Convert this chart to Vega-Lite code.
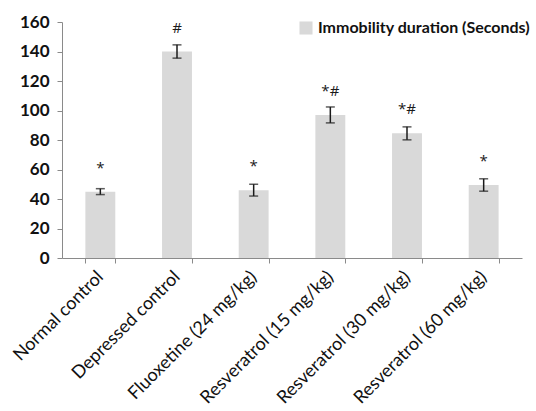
{
  "$schema": "https://vega.github.io/schema/vega-lite/v6.json",
  "autosize": "none",
  "width": 460,
  "height": 236,
  "padding": {"left": 62, "top": 22, "right": 14, "bottom": 153},
  "background": "white",
  "config": {
    "view": {"stroke": null},
    "font": "Lato"
  },
  "data": {
    "values": [
      {"group": "Normal control", "mean": 45, "sem": 2, "sig": "*"},
      {"group": "Depressed control", "mean": 140, "sem": 4.5, "sig": "#"},
      {"group": "Fluoxetine (24 mg/kg)", "mean": 46, "sem": 4, "sig": "*"},
      {"group": "Resveratrol (15 mg/kg)", "mean": 97, "sem": 5.4, "sig": "*#"},
      {"group": "Resveratrol (30 mg/kg)", "mean": 84.5, "sem": 4.4, "sig": "*#"},
      {"group": "Resveratrol (60 mg/kg)", "mean": 49.5, "sem": 4.2, "sig": "*"}
    ]
  },
  "encoding": {
    "x": {
      "field": "group",
      "type": "nominal",
      "sort": null,
      "scale": {"paddingInner": 0.61, "paddingOuter": 0.305},
      "axis": {
        "title": null,
        "labelAngle": -45,
        "labelAlign": "right",
        "labelBaseline": "middle",
        "labelFontSize": 18,
        "labelColor": "#111",
        "labelPadding": 11,
        "labelLimit": 300,
        "labelOverlap": false,
        "tickBand": "extent",
        "tickSize": 5,
        "tickColor": "#8a8a8a",
        "domainColor": "#8a8a8a",
        "labelFont": "Lato"
      }
    },
    "y": {
      "field": "mean",
      "type": "quantitative",
      "scale": {"domain": [0, 160], "nice": false},
      "axis": {
        "title": null,
        "values": [0, 20, 40, 60, 80, 100, 120, 140, 160],
        "labelOverlap": false,
        "grid": false,
        "labelFont": "Lato",
        "labelFontSize": 17,
        "labelFontWeight": "bold",
        "labelColor": "#111",
        "labelPadding": 8,
        "tickSize": 5,
        "tickColor": "#8a8a8a",
        "domainColor": "#8a8a8a"
      }
    }
  },
  "layer": [
    {
      "mark": {"type": "bar", "color": "#d9d9d9"},
      "encoding": {
        "color": {
          "datum": "Immobility duration (Seconds)",
          "scale": {"range": ["#d9d9d9"]},
          "legend": {
            "title": null,
            "orient": "none",
            "legendX": 236,
            "legendY": -2,
            "symbolType": "square",
            "symbolSize": 170,
            "symbolStrokeWidth": 0,
            "labelFontSize": 16,
            "labelFontWeight": "bold",
            "labelLimit": 400,
            "labelColor": "#111",
            "labelFont": "Lato"
          }
        }
      }
    },
    {
      "mark": {"type": "errorbar", "ticks": {"size": 9, "thickness": 1.5, "color": "#1a1a1a"}, "rule": {"strokeWidth": 1.5, "color": "#1a1a1a"}},
      "encoding": {
        "yError": {"field": "sem"}
      }
    },
    {
      "mark": {"type": "text", "fontSize": 15, "font": "Open Sans", "color": "#1a1a1a", "baseline": "bottom", "dy": -16},
      "encoding": {
        "text": {"field": "sig"}
      }
    }
  ]
}
